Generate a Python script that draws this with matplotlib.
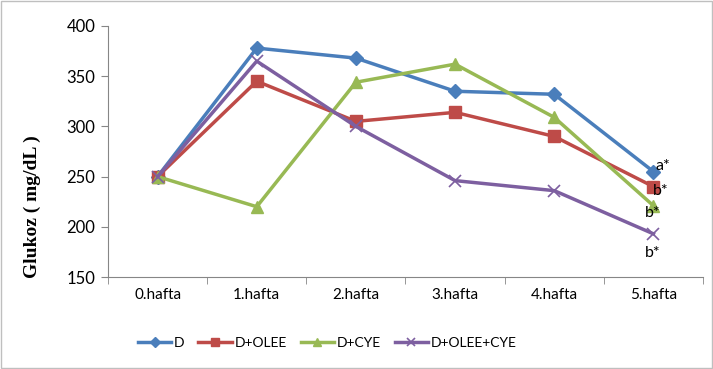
import numpy as np
import matplotlib
matplotlib.use("Agg")
import matplotlib.pyplot as plt

weeks = ["0.hafta", "1.hafta", "2.hafta", "3.hafta", "4.hafta", "5.hafta"]
d = [250, 378, 368, 335, 332, 255]
d_olee = [250, 345, 305, 314, 290, 240]
d_cye = [250, 220, 344, 362, 309, 221]
d_olee_cye = [250, 365, 300, 246, 236, 193]
end_labels = ["a*", "b*", "b*", "b*"]

plt.rcParams['font.family'] = ['Lato', 'DejaVu Sans']

fig = plt.figure(figsize=(7.13, 3.69), dpi=100)
ax = fig.add_axes([108/713, 1-277/369, 595/713, 251/369])
x = np.arange(len(weeks))

ax.plot(x, d, color='#4a7ebb', lw=2.5, marker='D', ms=7, label='D')
ax.plot(x, d_olee, color='#be4b48', lw=2.5, marker='s', ms=9, label='D+OLEE')
ax.plot(x, d_cye, color='#98b954', lw=2.5, marker='^', ms=9, label='D+CYE')
ax.plot(x, d_olee_cye, color='#7d5fa0', lw=2.5, marker='x', ms=9, mew=1.2,
        label='D+OLEE+CYE')

# significance letters at last week
offs = [(0.1, 6), (0.07, -4), (-0.01, -7), (-0.01, -19)]
for ser, lab, (dx, dy) in zip([d, d_olee, d_cye, d_olee_cye], end_labels, offs):
    ax.text(x[-1] + dx, ser[-1] + dy, lab, fontsize=11.5, ha='center', va='center')

ax.set_xlim(-0.5, 5.5)
ax.set_ylim(150, 400)
ax.set_yticks(range(150, 401, 50))
ax.set_xticks(x)
ax.set_xticklabels(weeks, fontsize=11)
ax.set_xticks(np.arange(-0.5, 6, 1), minor=True)
ax.tick_params(axis='x', which='major', length=0, pad=8)
ax.tick_params(axis='x', which='minor', length=5, color='#868686', direction='out')
ax.tick_params(axis='y', labelsize=12, length=5, color='#868686', pad=4)
for s in ['top', 'right']:
    ax.spines[s].set_visible(False)
for s in ['left', 'bottom']:
    ax.spines[s].set_color('#868686')

ax.set_ylabel("Glukoz ( mg/dL )", family=['Liberation Serif'], fontweight='bold',
              fontsize=14)
ax.yaxis.set_label_coords(-0.113, 0.28)

fig.legend(loc='center', bbox_to_anchor=(0.459, 1-343/369), ncol=4, frameon=False,
           fontsize=10, handlelength=2.4, columnspacing=1.0, handletextpad=0.2,
           markerscale=0.7)

fig.patches.append(plt.Rectangle((0.002, 0.004), 0.996, 0.992, transform=fig.transFigure,
                                 fill=False, edgecolor='#bfbfbf', lw=1))
fig.savefig("out.png", dpi=100)
